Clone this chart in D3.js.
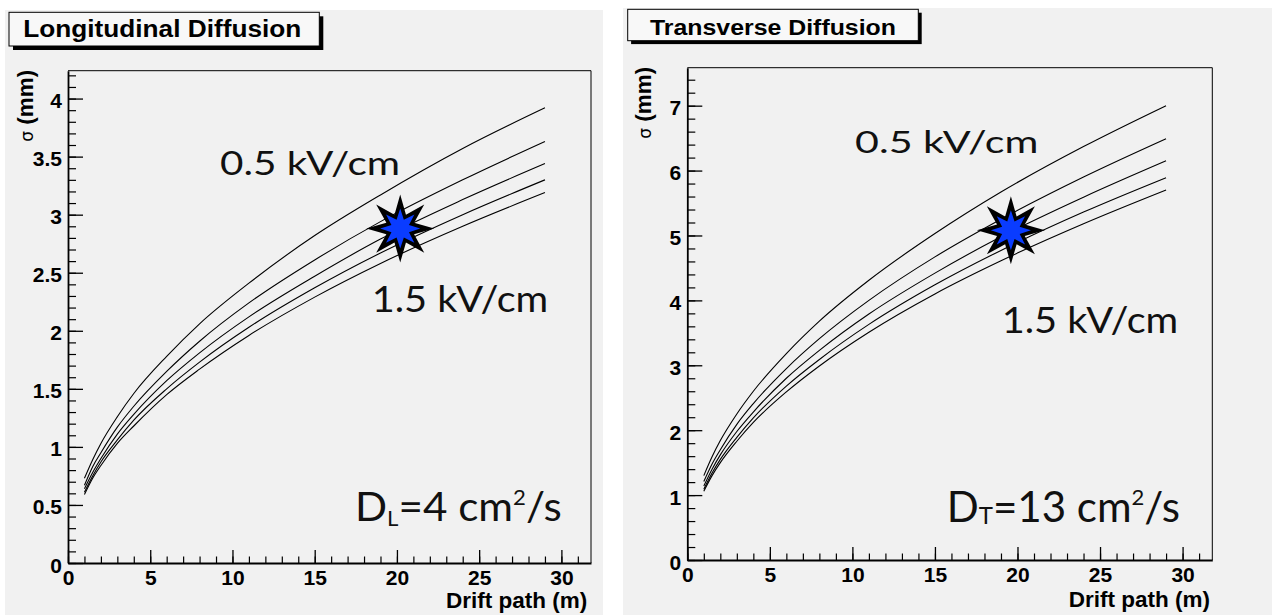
<!DOCTYPE html>
<html><head><meta charset="utf-8">
<script src="https://cdn.jsdelivr.net/npm/d3@7"></script>
<style>body{margin:0;background:#fff}svg{display:block}</style>
</head><body>
<svg id="c" width="1272" height="615"></svg>
<script>
// ---------- data ----------
const driftPath = [1, 1.5, 2, 3, 4, 6, 8, 11, 15, 19, 24, 29];

const longSeries = [
  [0.73, 0.89, 1.03, 1.26, 1.46, 1.78, 2.06, 2.41, 2.82, 3.17, 3.57, 3.92],
  [0.67, 0.83, 0.95, 1.17, 1.35, 1.65, 1.91, 2.24, 2.61, 2.94, 3.30, 3.63],
  [0.64, 0.78, 0.90, 1.11, 1.28, 1.57, 1.81, 2.12, 2.47, 2.79, 3.13, 3.44],
  [0.61, 0.75, 0.87, 1.06, 1.23, 1.50, 1.73, 2.03, 2.37, 2.67, 3.00, 3.30],
  [0.59, 0.73, 0.84, 1.03, 1.18, 1.45, 1.67, 1.96, 2.29, 2.58, 2.90, 3.19]
];
const transSeries = [
  [1.30, 1.59, 1.84, 2.25, 2.60, 3.18, 3.68, 4.31, 5.03, 5.67, 6.37, 7.00],
  [1.21, 1.48, 1.70, 2.09, 2.41, 2.95, 3.41, 4.00, 4.67, 5.25, 5.90, 6.49],
  [1.14, 1.40, 1.62, 1.98, 2.28, 2.80, 3.23, 3.79, 4.42, 4.98, 5.59, 6.15],
  [1.09, 1.34, 1.55, 1.89, 2.19, 2.68, 3.09, 3.63, 4.24, 4.77, 5.36, 5.89],
  [1.06, 1.30, 1.50, 1.83, 2.12, 2.59, 2.99, 3.51, 4.10, 4.61, 5.18, 5.70]
];

const xTicks = [0, 5, 10, 15, 20, 25, 30];
const xMinorTicks = d3.range(0, 32, 1);
const longYTicks = [0, 0.5, 1, 1.5, 2, 2.5, 3, 3.5, 4];
const longYMinor = d3.range(0, 42.1, 1).map(v => v / 10);
const transYTicks = [0, 1, 2, 3, 4, 5, 6, 7];
const transYMinor = d3.range(0, 38, 1).map(v => v / 5);

const longStar = [20.2, 2.88];
const transStar = [19.6, 5.08];

const titles = ["Longitudinal Diffusion", "Transverse Diffusion"];
const xTitle = "Drift path (m)";
const yTitleSym = "σ";
const yTitleUnit = " (mm)";
const fieldHigh = "0.5 kV/cm";
const fieldLow = "1.5 kV/cm";
const coefLong = ["D", "L", "=4 cm", "2", "/s"];
const coefTrans = ["D", "T", "=13 cm", "2", "/s"];

// ---------- layout ----------
const panels = [
  { bg: [5, 10, 598, 605],
    x0: 68, x1: 591, y0: 563, y1: 70.7, yMax: 4.24,
    series: longSeries, yTicks: longYTicks, yMinor: longYMinor, star: longStar,
    title: titles[0], box: [9, 12.3, 310.3, 33.7], shadow: 4, titleX: 23.3, titleY: 37, titleLen: 278, titleSize: 23,
    yTitleX: 33, xTitleX: 587.3, xTitleY: 608,
    hi: [220, 175, 180, 32], lo: [371.7, 311.7, 176.6, 37],
    coef: coefLong, coefPos: [355, 520.7, 206.7, 40], subShift: 5, subSize: 21, supShift: -16, supSize: 21 },
  { bg: [623, 8, 649, 607],
    x0: 687.3, x1: 1212.3, y0: 560, y1: 67.7, yMax: 7.585,
    series: transSeries, yTicks: transYTicks, yMinor: transYMinor, star: transStar,
    title: titles[1], box: [627.7, 9.3, 290.6, 31.4], shadow: 3.4, titleX: 650, titleY: 35, titleLen: 246, titleSize: 22,
    yTitleX: 651, xTitleX: 1210, xTitleY: 606.7,
    hi: [855, 152.7, 183.3, 31.5], lo: [1001.7, 333.3, 176.6, 37],
    coef: coefTrans, coefPos: [946.7, 521.7, 233.3, 42], subShift: 2, subSize: 24, supShift: -17, supSize: 22 }
];

const svg = d3.select("#c");
const bold = "'Liberation Sans', Arial, Helvetica, sans-serif";
const hum = "Lato, 'Open Sans', sans-serif";

function starPoints(cx, cy, R, r, n) {
  const pts = [];
  for (let i = 0; i < 2 * n; i++) {
    const a = -Math.PI / 2 + i * Math.PI / n;
    const rad = i % 2 === 0 ? R : r;
    pts.push([cx + rad * Math.cos(a), cy + rad * Math.sin(a)]);
  }
  return pts.map(p => p.join(",")).join(" ");
}

panels.forEach(p => {
  const g = svg.append("g");
  g.append("rect").attr("x", p.bg[0]).attr("y", p.bg[1]).attr("width", p.bg[2]).attr("height", p.bg[3]).attr("fill", "#f1f1f1");

  const x = d3.scaleLinear().domain([0, 31.8]).range([p.x0, p.x1]);
  const y = d3.scaleLinear().domain([0, p.yMax]).range([p.y0, p.y1]);

  // frame (top & right)
  g.append("path").attr("d", `M${p.x0},${p.y1}H${p.x1}V${p.y0}`).attr("fill", "none").attr("stroke", "#000").attr("stroke-width", 1);

  // minor ticks
  g.append("g").attr("transform", `translate(0,${p.y0})`)
    .call(d3.axisBottom(x).tickValues(xMinorTicks).tickSizeInner(-6.5).tickSizeOuter(0).tickFormat(""))
    .call(s => s.select(".domain").remove())
    .selectAll("line").attr("stroke-width", 1.2);
  g.append("g").attr("transform", `translate(${p.x0},0)`)
    .call(d3.axisLeft(y).tickValues(p.yMinor).tickSizeInner(-8).tickSizeOuter(0).tickFormat(""))
    .call(s => s.select(".domain").remove())
    .selectAll("line").attr("stroke-width", 1.2);

  // major ticks + labels
  const xa = g.append("g").attr("transform", `translate(0,${p.y0})`)
    .call(d3.axisBottom(x).tickValues(xTicks).tickSizeInner(-13).tickSizeOuter(0).tickPadding(7));
  xa.select(".domain").attr("stroke-width", 1.8);
  xa.selectAll("line").attr("stroke-width", 1.3);
  xa.selectAll("text").attr("font-family", bold).attr("font-weight", "bold").attr("font-size", 21).attr("fill", "#000");

  const ya = g.append("g").attr("transform", `translate(${p.x0},0)`)
    .call(d3.axisLeft(y).tickValues(p.yTicks).tickSizeInner(-15).tickSizeOuter(0).tickPadding(6).tickFormat(d3.format("")));
  ya.select(".domain").attr("stroke-width", 1.8);
  ya.selectAll("line").attr("stroke-width", 1.3);
  ya.selectAll("text").attr("font-family", bold).attr("font-weight", "bold").attr("font-size", 21).attr("dy", "0.43em").attr("fill", "#000");

  // curves
  const line = d3.line().x((d, i) => x(driftPath[i])).y(d => y(d)).curve(d3.curveMonotoneX);
  g.selectAll("path.curve").data(p.series).join("path").attr("class", "curve")
    .attr("d", line).attr("fill", "none").attr("stroke", "#000").attr("stroke-width", 1.1);

  // axis titles
  g.append("text").attr("x", p.xTitleX).attr("y", p.xTitleY).attr("text-anchor", "end")
    .attr("font-family", bold).attr("font-weight", "bold").attr("font-size", 22.5).text(xTitle);
  const yt = g.append("text").attr("transform", `translate(${p.yTitleX},${p.y1 - 1}) rotate(-90)`).attr("text-anchor", "end")
    .attr("font-family", bold).attr("font-weight", "bold").attr("font-size", 22.5);
  yt.append("tspan").attr("font-weight", "normal").attr("font-family", "'DejaVu Sans', sans-serif").attr("font-size", 17).text(yTitleSym);
  yt.append("tspan").text(yTitleUnit);

  // title box
  const b = p.box;
  g.append("rect").attr("x", b[0] + p.shadow).attr("y", b[1] + p.shadow).attr("width", b[2]).attr("height", b[3]).attr("fill", "#000");
  g.append("rect").attr("x", b[0]).attr("y", b[1]).attr("width", b[2]).attr("height", b[3]).attr("fill", "#f8f8f8").attr("stroke", "#000").attr("stroke-width", 1);
  g.append("text").attr("x", p.titleX).attr("y", p.titleY).attr("font-family", bold).attr("font-weight", "bold")
    .attr("font-size", p.titleSize).attr("textLength", p.titleLen).attr("lengthAdjust", "spacingAndGlyphs").text(p.title);

  // annotations
  [[fieldHigh, p.hi], [fieldLow, p.lo]].forEach(([t, a]) => {
    g.append("text").attr("x", a[0]).attr("y", a[1]).attr("font-family", hum).attr("font-size", a[3])
      .attr("textLength", a[2]).attr("lengthAdjust", "spacingAndGlyphs").attr("fill", "#111").text(t);
  });
  const c = p.coefPos;
  const ct = g.append("text").attr("x", c[0]).attr("y", c[1]).attr("font-family", hum).attr("font-size", c[3]).attr("fill", "#111")
    .attr("textLength", c[2]).attr("lengthAdjust", "spacingAndGlyphs");
  ct.append("tspan").text(p.coef[0]);
  ct.append("tspan").attr("font-size", p.subSize).attr("dy", p.subShift).text(p.coef[1]);
  ct.append("tspan").attr("dy", -p.subShift).text(p.coef[2]);
  ct.append("tspan").attr("font-size", p.supSize).attr("dy", p.supShift).text(p.coef[3]);
  ct.append("tspan").attr("dy", -p.supShift).text(p.coef[4]);

  // star marker
  const sx = x(p.star[0]), sy = y(p.star[1]);
  g.append("polygon").attr("points", starPoints(sx, sy, 34, 15, 8)).attr("fill", "#000");
  g.append("polygon").attr("points", starPoints(sx, sy, 20, 9.5, 8)).attr("fill", "#0a3cff");
});
</script>
</body></html>
